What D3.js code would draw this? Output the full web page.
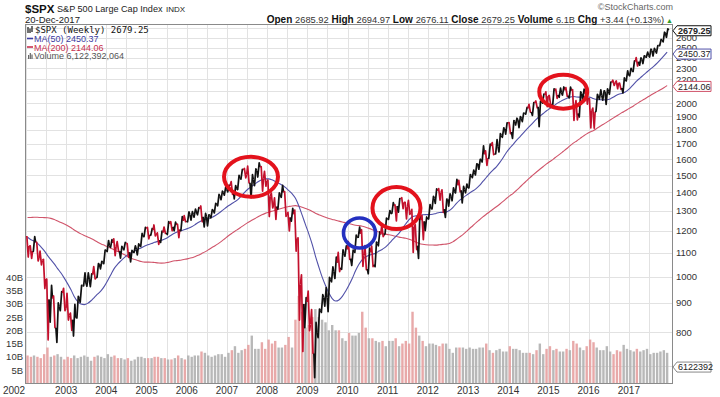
<!DOCTYPE html>
<html><head><meta charset="utf-8">
<script src="https://cdn.jsdelivr.net/npm/d3@7/dist/d3.min.js"></script>
<style>
body{margin:0;background:#fff}
svg{display:block;font-family:"Liberation Sans",Arial,sans-serif}
</style>
</head><body>
<svg id="c" width="720" height="397"></svg>
<script>
// ---------------- DATA (monthly) ----------------
const firstYear = 2002;
const yearLabels = ["2002","2003","2004","2005","2006","2007","2008","2009","2010","2011","2012","2013","2014","2015","2016","2017"];
// closes before 2002, only used to warm up the moving averages (Dec 1997 .. Dec 2001)
const historyCloses = [970,
 980,1049,1101,1111,1090,1133,1120,957,1017,1098,1163,1229,
 1279,1238,1286,1335,1301,1372,1328,1320,1282,1362,1388,1469,
 1394,1366,1498,1452,1421,1455,1431,1518,1436,1429,1315,1320,
 1366,1240,1160,1249,1256,1224,1211,1134,1041,1060,1139,1148];
const closes = [
 1130,1107,1147,1077,1067,990,912,916,815,886,936,880,
 856,841,848,917,964,975,990,1008,996,1051,1058,1112,
 1131,1145,1126,1107,1121,1141,1102,1104,1115,1130,1174,1212,
 1181,1204,1181,1157,1192,1191,1234,1220,1229,1207,1249,1248,
 1280,1281,1295,1311,1270,1270,1277,1304,1336,1378,1401,1418,
 1438,1407,1421,1482,1531,1503,1455,1474,1527,1549,1481,1468,
 1379,1331,1323,1386,1400,1280,1267,1283,1165,969,896,903,
 826,735,798,873,919,919,987,1021,1057,1036,1096,1115,
 1074,1104,1169,1187,1089,1031,1102,1049,1141,1183,1181,1258,
 1286,1327,1326,1364,1345,1321,1292,1219,1131,1253,1247,1258,
 1312,1366,1408,1398,1310,1362,1379,1407,1441,1412,1416,1426,
 1498,1515,1569,1598,1631,1606,1686,1633,1682,1757,1806,1848,
 1783,1859,1872,1884,1924,1960,1931,2003,1972,2018,2068,2059,
 1995,2105,2068,2086,2107,2063,2104,1972,1920,2079,2080,2044,
 1940,1932,2060,2065,2097,2099,2174,2171,2168,2126,2199,2239,
 2279,2364,2363,2384,2412,2423,2470,2472,2519,2575,2648,2679.25];
const highs = [
 1176,1131,1173,1147,1107,1071,990,965,925,900,941,954,
 935,864,895,924,965,1015,1015,1011,1040,1053,1063,1112,
 1155,1159,1163,1150,1128,1146,1141,1110,1131,1140,1188,1217,
 1217,1212,1229,1191,1199,1219,1246,1245,1243,1233,1271,1276,
 1295,1297,1310,1318,1326,1287,1280,1307,1340,1389,1407,1431,
 1441,1462,1439,1499,1535,1541,1556,1503,1538,1576,1552,1523,
 1471,1396,1370,1398,1440,1405,1293,1313,1304,1167,1007,919,
 943,876,832,878,930,957,997,1039,1081,1101,1113,1130,
 1150,1112,1180,1219,1206,1132,1120,1130,1148,1196,1228,1263,
 1302,1344,1332,1366,1371,1346,1356,1308,1230,1293,1277,1269,
 1334,1378,1420,1422,1415,1363,1392,1426,1475,1470,1434,1448,
 1504,1531,1570,1598,1687,1654,1698,1709,1730,1772,1813,1849,
 1851,1867,1884,1897,1924,1968,1992,2006,2019,2018,2076,2094,
 2064,2120,2117,2126,2135,2130,2133,2113,2021,2094,2117,2104,
 2038,1962,2073,2111,2103,2120,2178,2194,2187,2169,2214,2278,
 2301,2371,2401,2399,2419,2454,2484,2491,2520,2582,2658,2695];
const lows = [
 1081,1075,1106,1064,1048,953,776,833,815,768,872,872,
 840,806,788,847,902,963,962,960,990,996,1031,1053,
 1105,1124,1087,1107,1076,1113,1079,1060,1101,1090,1128,1173,
 1163,1180,1176,1137,1146,1188,1183,1201,1201,1168,1201,1245,
 1245,1253,1268,1280,1245,1219,1224,1265,1290,1327,1360,1385,
 1403,1389,1364,1416,1476,1484,1454,1371,1439,1489,1407,1435,
 1271,1316,1257,1310,1373,1272,1200,1248,1107,840,741,815,
 805,736,667,783,866,888,869,979,992,1020,1029,1085,
 1071,1045,1101,1170,1041,1028,1011,1040,1040,1131,1173,1187,
 1257,1288,1249,1294,1312,1259,1282,1101,1114,1075,1159,1202,
 1259,1311,1340,1357,1292,1267,1325,1354,1397,1403,1343,1398,
 1426,1485,1502,1536,1581,1560,1605,1628,1633,1646,1746,1768,
 1771,1738,1834,1815,1859,1915,1931,1905,1964,1821,2001,1973,
 1988,1981,2040,2049,2067,2056,2044,1867,1872,1893,2019,1993,
 1812,1810,1937,2033,2025,1992,2075,2148,2120,2115,2084,2187,
 2233,2271,2322,2329,2345,2405,2407,2417,2446,2520,2557,2605];
// average weekly volume per month, billions of shares
const volumes = [
 10.5,10,10.5,10,9.5,11,13.5,10,10.5,11,10,9,
 10,9.5,10.5,9.5,10,10.5,10,8.5,10,10.5,10,9.5,
 11,10,10.5,9.5,9.5,9,9.5,8.5,9,10,10,9.5,
 9.5,9.5,10,10,9.5,9.5,9,9,9.5,10.5,9.5,9,
 10.5,10,10.5,10.5,12,11.5,10.5,10,10.5,11,11,10,
 11.5,12.5,14,11.5,12.5,13,14.5,18,13,13,15.5,13,
 16.5,15,16,13.5,13.5,14.5,17.5,13.5,24,33,27,21,
 22,25,28,25,24,23,20,22,20,20,17,16,
 19,18,18,19,27,21,17,17,16,15.5,16,14,
 16,16,17,14,15,16,15,27,21,18,16,14,
 15,15,14.5,14,15,15,13,11.5,13.5,13.5,13.5,13,
 13.5,13,13,13.5,13.5,15,12.5,11.5,12.5,13,12,12,
 14,13,13,12.5,11.5,11.5,11.5,11,12.5,15,11,13,
 14,12.5,13,12,12,13,12.5,16,15,13.5,12.5,14,
 16.5,15.5,13.5,12.5,12.5,14,12,11,12.5,12,14.5,13,
 12.5,12,13,12,12.5,13,11,11.5,11.5,12,12.5,11.5];
const priceTicks = [800,900,1000,1100,1200,1300,1400,1500,1600,1700,1800,1900,2000,2200,2300,2400,2500,2600];
const priceGrid = [700,800,900,1000,1100,1200,1300,1400,1500,1600,1700,1800,1900,2000,2100,2200,2300,2400,2500,2600,2700];
const volumeTicks = [5,10,15,20,25,30,35,40];
const lastClose = 2679.25, lastMA50 = 2450.37, lastMA200 = 2144.06, lastVolume = 6122392064;
const highlightRed = [[2007.6,1490],[2011.22,1315],[2015.37,2095]];
const highlightBlue = [[2010.3,1190]];

// ---------------- LAYOUT ----------------
const L = 25, R = 673, T = 24, B = 383;
const svg = d3.select("#c");
const x = d3.scaleTime().domain([new Date(2002,0,1), new Date(2018,0,1)]).range([26, 669]);
const y = d3.scaleLog().domain([653, 2747]).range([B, T]);
const yv = d3.scaleLinear().domain([0, 40]).range([383.3, 277.3]);
const dates = closes.map((c,i) => new Date(firstYear + Math.floor(i/12), i%12, 15));
const yearPos = yr => x(new Date(yr,0,1));
const decYear = v => { const yr = Math.floor(v); return new Date(yr, 0, 1 + Math.round((v-yr)*365)); };

// moving averages (50 and 200 weeks) from mid-month prices
const all = historyCloses.concat(closes);
const H = historyCloses.length;
const mids = all.map((c,k) => k === 0 ? c : (all[k-1] + c) / 2);
const ma50 = closes.map((c,i) => { const k = i + H; return (d3.sum(mids.slice(k-10, k+1)) + 0.5*mids[k-11]) / 11.5; });
const ma200 = closes.map((c,i) => { const k = i + H; return d3.mean(mids.slice(k-45, k+1)); });
const prev = i => i === 0 ? historyCloses[H-1] : closes[i-1];

// ---------------- GRID ----------------
svg.append("defs").append("clipPath").attr("id","clip").append("rect")
  .attr("x",L).attr("y",T).attr("width",R-L).attr("height",B-T);
const grid = svg.append("g").attr("stroke","#e2e2e2").attr("stroke-width",1);
for (let yr = 2002; yr <= 2017; yr++) {
  [0, 0.5].forEach(f => {
    const xx = Math.round(x(decYear(yr+f))) + 0.5;
    if (xx > L+1 && xx < R-1) grid.append("line").attr("x1",xx).attr("x2",xx).attr("y1",T).attr("y2",B);
  });
}
priceGrid.forEach(p => { const yy = Math.round(y(p)) + 0.5;
  if (yy > T && yy < B) grid.append("line").attr("x1",L).attr("x2",R).attr("y1",yy).attr("y2",yy); });

const plot = svg.append("g").attr("clip-path","url(#clip)");

// ---------------- VOLUME ----------------
plot.append("g").selectAll("rect").data(volumes).join("rect")
  .attr("x",(d,i)=>x(dates[i])-1.2).attr("width",2.4)
  .attr("y",d=>yv(d)).attr("height",d=>yv(0)-yv(d))
  .attr("fill",(d,i)=> closes[i] < prev(i) ? "#e6a0a0" : "#b0b0b0")
  .attr("opacity",0.9);

// ---------------- MOVING AVERAGES ----------------
const line = d3.line().x((d,i)=>x(dates[i])).y(d=>y(d)).curve(d3.curveMonotoneX);
plot.append("path").attr("d",line(ma200)).attr("fill","none").attr("stroke","#d0546a").attr("stroke-width",1.1);
plot.append("path").attr("d",line(ma50)).attr("fill","none").attr("stroke","#5151a8").attr("stroke-width",1.1);

// ---------------- PRICE BARS (high/low swings per month, joined) ----------------
const bars = plot.append("g").attr("fill","none").attr("stroke-linejoin","round");
let last = null;
closes.forEach((c,i) => {
  const down = c < prev(i);
  const col = down ? "#c3102c" : "#111";
  const xx = x(dates[i]);
  const first = down ? highs[i] : lows[i], second = down ? lows[i] : highs[i];
  const p1 = [xx-0.7, y(first)], p2 = [xx+0.7, y(second)], p3 = [xx+1.6, y(c)];
  const pts = last ? [last, p1, p2, p3] : [p1, p2, p3];
  bars.append("path").attr("d", d3.line()(pts)).attr("stroke",col).attr("stroke-width",1.7);
  last = p3;
});

// ---------------- HIGHLIGHT CIRCLES ----------------
highlightRed.forEach((d,i) => {
  const r = [[27,20],[24,21],[24,17]][i];
  svg.append("ellipse").attr("cx",x(decYear(d[0]))).attr("cy",y(d[1])).attr("rx",r[0]).attr("ry",r[1])
    .attr("fill","none").attr("stroke","#e3121c").attr("stroke-width",4);
});
highlightBlue.forEach(d => {
  svg.append("ellipse").attr("cx",x(decYear(d[0]))).attr("cy",y(d[1])).attr("rx",16).attr("ry",15)
    .attr("fill","none").attr("stroke","#2430c0").attr("stroke-width",3.6);
});

// ---------------- FRAME ----------------
svg.append("rect").attr("x",L+0.5).attr("y",T+0.5).attr("width",R-L-1).attr("height",B-T)
  .attr("fill","none").attr("stroke","#8a8a8a").attr("stroke-width",1);

// ---------------- AXES ----------------
const axR = svg.append("g").attr("font-size",9.5).attr("fill","#333");
priceTicks.forEach(p => axR.append("text").attr("x",676).attr("y",y(p)+3.5).text(p));
const axL = svg.append("g").attr("font-size",9.5).attr("fill","#333").attr("text-anchor","end");
volumeTicks.forEach(v => axL.append("text").attr("x",23).attr("y",yv(v*1)+3.5).text(v+"B"));
const axB = svg.append("g").attr("font-size",10).attr("fill","#333").attr("text-anchor","middle");
yearLabels.forEach((t,i) => {
  const xx = i === 0 ? 14 : yearPos(firstYear+i);
  axB.append("text").attr("x",xx).attr("y",394).text(t);
});

// value tags on the right
function tag(yy, label, stroke, bold) {
  const g = svg.append("g");
  g.append("path").attr("d",`M673,${yy} L677,${yy-5} L711,${yy-5} L711,${yy+5} L677,${yy+5} Z`)
    .attr("fill","#fff").attr("stroke",stroke).attr("stroke-width",1);
  g.append("text").attr("x",678).attr("y",yy+3.2).attr("font-size",9).attr("fill","#222")
    .attr("font-weight",bold?"bold":"normal").text(label);
}
tag(y(lastClose)+0.5, d3.format(".2f")(lastClose), "#111", true);
tag(y(lastMA50)+1.5, d3.format(".2f")(lastMA50), "#5151a8", false);
tag(y(lastMA200)+0.5, d3.format(".2f")(lastMA200), "#d0546a", false);
tag(yv(lastVolume/1e9), String(Math.round(lastVolume/1000)), "#888", false);

// ---------------- LEGEND ----------------
const lg = svg.append("g");
[[28,27,33],[30,28.5,33],[32,26,32]].forEach(b=>lg.append("line").attr("x1",b[0]).attr("x2",b[0]).attr("y1",b[1]).attr("y2",b[2]).attr("stroke","#111").attr("stroke-width",1.2));
lg.append("text").attr("x",35).attr("y",33).style("font-family","'DejaVu Sans Mono', monospace").attr("font-size",9).attr("fill","#111").text("$SPX (Weekly) " + d3.format(".2f")(lastClose));
lg.append("line").attr("x1",27).attr("x2",33).attr("y1",38.5).attr("y2",38.5).attr("stroke","#3c3ca0").attr("stroke-width",1.6);
lg.append("text").attr("x",34).attr("y",42).attr("font-size",9).attr("fill","#3c3ca0").text("MA(50) " + d3.format(".2f")(lastMA50));
lg.append("line").attr("x1",27).attr("x2",33).attr("y1",47).attr("y2",47).attr("stroke","#c8304e").attr("stroke-width",1.6);
lg.append("text").attr("x",34).attr("y",50.5).attr("font-size",9).attr("fill","#c8304e").text("MA(200) " + d3.format(".2f")(lastMA200));
[[28,55],[29.7,53],[31.4,54.5]].forEach(b=>lg.append("rect").attr("x",b[0]).attr("y",b[1]).attr("width",1.2).attr("height",59-b[1]).attr("fill","#666"));
lg.append("text").attr("x",34).attr("y",59).attr("font-size",9).attr("fill","#555").text("Volume " + d3.format(",")(lastVolume));

// ---------------- HEADER ----------------
svg.append("text").attr("x",25).attr("y",12.5).attr("font-size",11.5).attr("font-weight","bold").attr("fill","#111").text("$SPX");
svg.append("text").attr("x",57).attr("y",12).attr("font-size",9.1).attr("fill","#222").text("S&P 500 Large Cap Index");
svg.append("text").attr("x",166).attr("y",12).attr("font-size",8).attr("fill","#222").text("INDX");
svg.append("text").attr("x",25).attr("y",23).attr("font-size",9.5).attr("fill","#222").text("20-Dec-2017");
svg.append("text").attr("x",673).attr("y",10).attr("font-size",9).attr("fill","#666").attr("text-anchor","end").text("\u00A9StockCharts.com");
const hdr = svg.append("text").attr("x",673).attr("y",22.5).attr("text-anchor","end").attr("font-size",9.3).attr("fill","#333");
const parts = [["Open","2685.92"],["High","2694.97"],["Low","2676.11"],["Close","2679.25"],["Volume","6.1B"],["Chg","+3.44 (+0.13%)"]];
parts.forEach((p,i) => {
  hdr.append("tspan").attr("font-weight","bold").attr("font-size",10).attr("fill","#111").text((i?"  ":"")+p[0]+" ");
  hdr.append("tspan").text(p[1]);
});
hdr.append("tspan").attr("fill","#2a9a2a").attr("font-size",7).text(" \u25B2");
</script>
</body></html>
